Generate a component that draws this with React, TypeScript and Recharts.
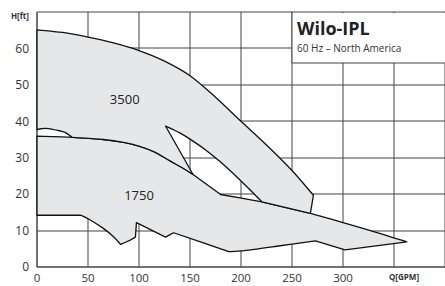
import { ComposedChart, Scatter, XAxis, YAxis } from 'recharts'

type Pt = { q: number; h: number; k?: number }

// k: 1 marks a sharp corner, everything else is drawn as a smooth curve

// 3500 rpm envelope, top curve left -> right
const top3500: Pt[] = [
  { q: 0, h: 65.1, k: 1 }, { q: 25, h: 64.4 }, { q: 50, h: 63.1 }, { q: 75, h: 61.5 },
  { q: 100, h: 59.4 }, { q: 125, h: 56.5 }, { q: 150, h: 52.5 }, { q: 175, h: 46.6 },
  { q: 200, h: 40 }, { q: 225, h: 33.5 }, { q: 250, h: 26.5 }, { q: 271, h: 19.7, k: 1 },
]

// inner edge of the 3500 field (right side of the white gap), bottom -> top
const holeRight: Pt[] = [
  { q: 220.5, h: 17.9, k: 1 }, { q: 200, h: 23.6 }, { q: 180, h: 28.8 }, { q: 165, h: 32.2 },
  { q: 150, h: 35.1 }, { q: 140, h: 36.8 }, { q: 126, h: 38.7, k: 1 },
]

// small arc at the left, right -> left
const lens: Pt[] = [
  { q: 34, h: 35.7, k: 1 }, { q: 28, h: 36.9 }, { q: 22, h: 37.4 }, { q: 11, h: 38 },
  { q: 4, h: 37.95 }, { q: 0, h: 37.7, k: 1 },
]

// 1750 rpm envelope, top edge left -> right
const top1750: Pt[] = [
  { q: 0, h: 35.9, k: 1 }, { q: 35, h: 35.6 }, { q: 65, h: 35 }, { q: 85, h: 34.2 },
  { q: 100, h: 33.2 }, { q: 115, h: 31.6 }, { q: 130, h: 29.2 }, { q: 142, h: 27.3 },
  { q: 153, h: 25.4, k: 1 }, { q: 180, h: 19.9, k: 1 }, { q: 220.5, h: 17.9, k: 1 }, { q: 268, h: 14.7, k: 1 },
  { q: 300, h: 12.2 }, { q: 335, h: 9.3 }, { q: 362.5, h: 6.9, k: 1 },
]

// 1750 bottom edge right -> left
const bottom1750: Pt[] = [
  { q: 302, h: 4.7, k: 1 }, { q: 273, h: 7.2, k: 1 }, { q: 235, h: 5.7 }, { q: 200, h: 4.4 },
  { q: 188, h: 4.2, k: 1 }, { q: 134, h: 9.4, k: 1 }, { q: 126, h: 8.2, k: 1 }, { q: 97.5, h: 12.2, k: 1 },
  { q: 96.5, h: 8.2, k: 1 }, { q: 91.5, h: 7.4, k: 1 }, { q: 82, h: 6.2, k: 1 }, { q: 75, h: 8.3 },
  { q: 65, h: 10.6 }, { q: 51, h: 13.1 }, { q: 43, h: 14.2, k: 1 }, { q: 0, h: 14.2, k: 1 },
]

const speedLabels = [
  { q: 86, h: 45.9, name: '3500' },
  { q: 100, h: 19.6, name: '1750' },
]

// title box corners (GPM / ft)
const boxQ = [250, 400]
const boxH = [56, 70]

const xTicks = [0, 50, 100, 150, 200, 250, 300, 350, 400]
const yTicks = [0, 10, 20, 30, 40, 50, 60, 70]
const xMax = 400
const yMax = 70

const FONT = '"Open Sans", sans-serif'
const FILL = '#e6e7e8'
const GRID = '#444'

const field1750: Pt[] = [...top1750, ...bottom1750]

const field3500: Pt[] = [
  { q: 0, h: 37.7, k: 1 },
  ...top3500,
  { q: 268, h: 14.7, k: 1 },
  ...holeRight,
  ...top1750.filter((p) => p.q <= 153 && p.q >= 35).reverse(),
  ...lens,
]

// grid as pairs of end points
const gridPts: Pt[] = [
  ...xTicks.flatMap((t) => [{ q: t, h: 0 }, { q: t, h: yMax }]),
  ...yTicks.flatMap((t) => [{ q: 0, h: t }, { q: xMax, h: t }]),
]

const boxPts: Pt[] = [
  { q: boxQ[0], h: boxH[1] }, { q: boxQ[1], h: boxH[1] },
  { q: boxQ[1], h: boxH[0] }, { q: boxQ[0], h: boxH[0] },
]

// closed path, catmull-rom between corner points
function makePolygon(src: Pt[]) {
  return (props: any) => {
    const pts: { x: number; y: number }[] = props.points ?? []
    const n = pts.length
    if (!n) return <g />
    const corner = (i: number) => !!src[(i + n) % n]?.k
    const at = (i: number) => pts[(i + n) % n]
    let d = `M${pts[0].x},${pts[0].y}`
    for (let i = 0; i < n; i++) {
      const p1 = at(i)
      const p2 = at(i + 1)
      const p0 = corner(i) ? p1 : at(i - 1)
      const p3 = corner(i + 1) ? p2 : at(i + 2)
      const c1x = p1.x + (p2.x - p0.x) / 6
      const c1y = p1.y + (p2.y - p0.y) / 6
      const c2x = p2.x - (p3.x - p1.x) / 6
      const c2y = p2.y - (p3.y - p1.y) / 6
      d += `C${c1x},${c1y} ${c2x},${c2y} ${p2.x},${p2.y}`
    }
    d += 'Z'
    return <path d={d} fill={FILL} stroke="#111" strokeWidth={1.3} strokeLinejoin="round" />
  }
}

// 1px rule drawn as a filled rect between two pixel points
function rule(a: { x: number; y: number }, b: { x: number; y: number }, key: string | number) {
  const x = Math.min(Math.round(a.x), Math.round(b.x))
  const y = Math.min(Math.round(a.y), Math.round(b.y))
  const w = Math.abs(Math.round(b.x) - Math.round(a.x))
  const h = Math.abs(Math.round(b.y) - Math.round(a.y))
  return <rect key={key} x={w ? x : x - 0.5} y={h ? y : y - 0.5} width={w || 1} height={h || 1} fill={GRID} stroke="none" />
}

function gridLines(props: any) {
  const pts: { x: number; y: number }[] = props.points ?? []
  const out = []
  for (let i = 0; i + 1 < pts.length; i += 2) out.push(rule(pts[i], pts[i + 1], i))
  return <g>{out}</g>
}

function titleBox(props: any) {
  const pts: { x: number; y: number }[] = props.points ?? []
  if (pts.length < 4) return <g />
  const x0 = Math.round(pts[0].x)
  const y0 = Math.round(pts[0].y)
  const x1 = Math.round(pts[1].x)
  const y1 = Math.round(pts[2].y)
  return (
    <g fontFamily={FONT}>
      <rect x={x0} y={y0 + 1} width={x1 - x0} height={y1 - y0 - 1} fill="#fff" />
      {rule(pts[0], pts[3], 'l')}
      {rule(pts[3], pts[2], 'b')}
      <text x={x0 + 5} y={y0 + 23} fontSize={18} fontWeight="bold" fill="#222">Wilo-IPL</text>
      <text x={x0 + 5} y={y0 + 40} fontSize={10} fill="#333">60 Hz – North America</text>
    </g>
  )
}

const noDot = () => <g />

function speedText(props: any) {
  const name = props.payload?.name ?? props.name
  return (
    <text x={props.cx} y={props.cy} textAnchor="middle" dy="0.35em" fontSize={13} fontFamily={FONT} fill="#222">
      {name}
    </text>
  )
}

function xTick(props: any) {
  const v = props.payload.value
  if (v === 400) return <g />
  if (v === 350) {
    return (
      <text x={props.x - 5} y={props.y - 1} dy="0.71em" fontSize={8} fontWeight="bold" fontFamily={FONT} fill="#333">
        Q[GPM]
      </text>
    )
  }
  return (
    <text x={props.x} y={props.y - 1.5} dy="0.71em" textAnchor="middle" fontSize={11.5} fontFamily={FONT} fill="#333">
      {v}
    </text>
  )
}

function yTick(props: any) {
  const v = props.payload.value
  if (v === 70) {
    return (
      <text x={props.x} y={props.y + 4.5} dy="0.355em" textAnchor="end" fontSize={8} fontWeight="bold" fontFamily={FONT} fill="#333">
        H[ft]
      </text>
    )
  }
  return (
    <text x={props.x} y={props.y} dy="0.355em" textAnchor="end" fontSize={12} fontFamily={FONT} fill="#333">
      {v}
    </text>
  )
}

export default function App() {
  return (
    <div style={{ position: 'absolute', left: 0, top: 0, background: '#fff' }}>
      <ComposedChart width={445} height={286} margin={{ top: 12, right: 0, bottom: 0, left: 0 }}>
        <XAxis
          type="number"
          dataKey="q"
          domain={[0, xMax]}
          ticks={xTicks}
          height={19}
          axisLine={{ stroke: GRID }}
          tickLine={false}
          tick={xTick}
          interval={0}
        />
        <YAxis
          type="number"
          dataKey="h"
          domain={[0, yMax]}
          ticks={yTicks}
          width={37}
          axisLine={{ stroke: GRID }}
          tickLine={false}
          tick={yTick}
          interval={0}
        />
        <Scatter data={gridPts} dataKey="h" line={gridLines} lineType="joint" shape={noDot} isAnimationActive={false} />
        <Scatter data={boxPts} dataKey="h" line={titleBox} lineType="joint" shape={noDot} isAnimationActive={false} />
        <Scatter data={field1750} dataKey="h" line={makePolygon(field1750)} lineType="joint" shape={noDot} isAnimationActive={false} />
        <Scatter data={field3500} dataKey="h" line={makePolygon(field3500)} lineType="joint" shape={noDot} isAnimationActive={false} />
        <Scatter data={speedLabels} dataKey="h" shape={speedText} isAnimationActive={false} />
      </ComposedChart>
    </div>
  )
}
